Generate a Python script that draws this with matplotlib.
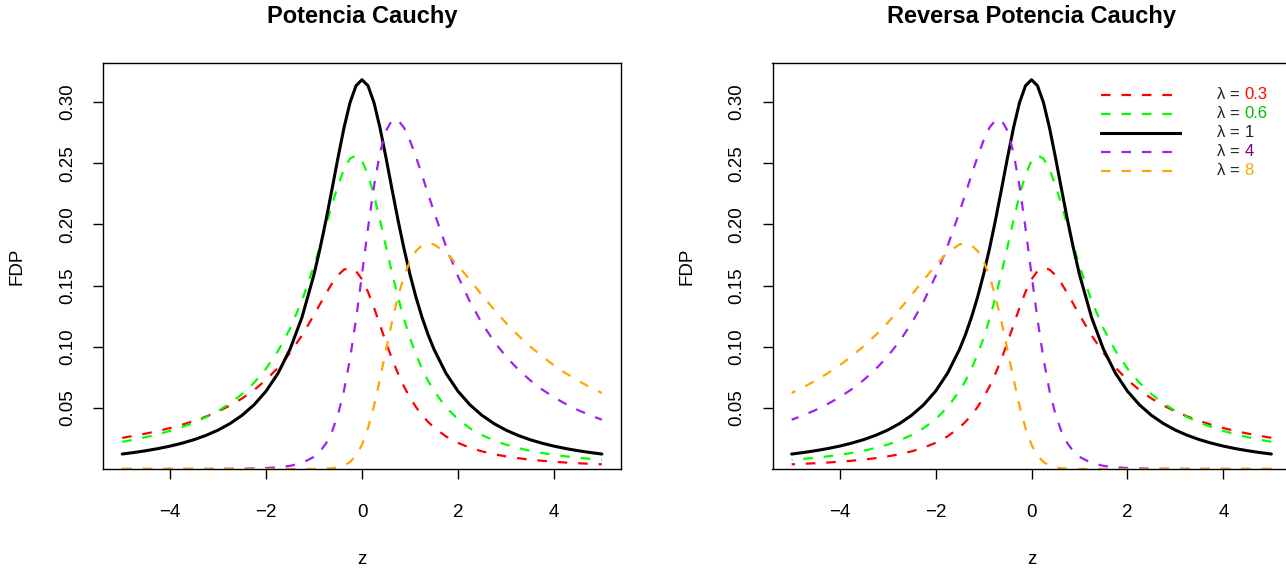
import numpy as np
import matplotlib
matplotlib.use("Agg")
import matplotlib.pyplot as plt

plt.rcParams['font.family'] = ['Liberation Sans', 'DejaVu Sans']

# z grid and densities (power Cauchy, left panel)
z = np.array([-5, -4.75, -4.5, -4.25, -4, -3.75, -3.5, -3.25, -3, -2.75, -2.5, -2.25, -2,
              -1.75, -1.5, -1.25, -1,
              -0.875, -0.75, -0.625, -0.5, -0.375, -0.25, -0.125, 0, 0.125, 0.25, 0.375,
              0.5, 0.625, 0.75, 0.875, 1, 1.125, 1.25, 1.375, 1.5,
              1.75, 2, 2.25, 2.5, 2.75, 3, 3.25, 3.5, 3.75, 4, 4.25, 4.5, 4.75, 5])

dens_03 = [0.02549, 0.02717, 0.02902, 0.03113, 0.03351, 0.03621, 0.03932, 0.04290, 0.04707,
           0.05196, 0.05773, 0.06461, 0.07290, 0.08288, 0.09496, 0.10938, 0.12600,
           0.13483, 0.14356, 0.15173, 0.15856, 0.16307, 0.16441, 0.16182, 0.15513, 0.14481,
           0.13191, 0.11776, 0.10355, 0.09015, 0.07807, 0.06749, 0.05840, 0.05067, 0.04414,
           0.03863, 0.03397,
           0.02667, 0.02136, 0.01741, 0.01442, 0.01211, 0.01030, 0.00886, 0.00769, 0.00674,
           0.00595, 0.00528, 0.00473, 0.00425, 0.00384]
dens_06 = [0.02222, 0.02404, 0.02610, 0.02845, 0.03117, 0.03432, 0.03801, 0.04235, 0.04752,
           0.05373, 0.06129, 0.07058, 0.08212, 0.09659, 0.11488, 0.13790, 0.16626,
           0.18230, 0.19914, 0.21605, 0.23189, 0.24509, 0.25383, 0.25645, 0.25201, 0.24069,
           0.22383, 0.20349, 0.18179, 0.16046, 0.14059, 0.12276, 0.10714, 0.09365, 0.08210,
           0.07225, 0.06384,
           0.05053, 0.04072, 0.03336, 0.02774, 0.02338, 0.01994, 0.01719, 0.01496, 0.01313,
           0.01161, 0.01033, 0.00925, 0.00833, 0.00754]
dens_1 = [0.01224, 0.01351, 0.01498, 0.01670, 0.01872, 0.02113, 0.02402, 0.02753, 0.03183,
          0.03718, 0.04391, 0.05251, 0.06366, 0.07835, 0.09794, 0.12422, 0.15915,
          0.18028, 0.20372, 0.22890, 0.25465, 0.27907, 0.29959, 0.31341, 0.31831, 0.31341,
          0.29959, 0.27907, 0.25465, 0.22890, 0.20372, 0.18028, 0.15915, 0.14050, 0.12422,
          0.11012, 0.09794,
          0.07835, 0.06366, 0.05251, 0.04391, 0.03718, 0.03183, 0.02753, 0.02402, 0.02113,
          0.01872, 0.01670, 0.01498, 0.01351, 0.01224]
dens_4 = [0.00001, 0.00002, 0.00002, 0.00003, 0.00004, 0.00005, 0.00007, 0.00009, 0.00014,
          0.00020, 0.00031, 0.00050, 0.00082, 0.00141, 0.00257, 0.00492, 0.00995,
          0.01438, 0.02096, 0.03062, 0.04459, 0.06410, 0.09007, 0.12236, 0.15915, 0.19695,
          0.23138, 0.25864, 0.27662, 0.28512, 0.28533, 0.27916, 0.26857, 0.25527, 0.24057,
          0.22540, 0.21039,
          0.18229, 0.15773, 0.13682, 0.11922, 0.10447, 0.09207, 0.08162, 0.07275, 0.06519,
          0.05870, 0.05311, 0.04826, 0.04402, 0.04031]
dens_8 = [0, 0, 0, 0, 0, 0, 0, 0, 0, 0, 0, 0, 0.0, 0.0, 0.00001, 0.00002, 0.00008,
          0.00016, 0.00032, 0.00066, 0.00138, 0.00284, 0.00571, 0.01100, 0.01989, 0.03339,
          0.05164, 0.07362, 0.09730, 0.12036, 0.14083, 0.15753, 0.16995, 0.17826, 0.18292,
          0.18450, 0.18368,
          0.17702, 0.16655, 0.15453, 0.14227, 0.13050, 0.11952, 0.10949, 0.10040, 0.09222,
          0.08485, 0.07825, 0.07232, 0.06699, 0.06219]

lambdas = ["0.3", "0.6", "1", "4", "8"]
series = [dens_03, dens_06, dens_1, dens_4, dens_8]
line_cols = ["#FF0000", "#00FF00", "#000000", "#A020F0", "#FFA500"]
text_cols = ["#FF0000", "#00BB00", "#222222", "#800080", "#FFA500"]
dash = (4.3, 4.9)

W, H = 1286, 574
fig = plt.figure(figsize=(W / 100, H / 100), dpi=100)

def px_axes(x0, x1, ytop, ybot):
    return fig.add_axes([x0 / W, 1 - ybot / H, (x1 - x0) / W, (ybot - ytop) / H])

ax1 = px_axes(103, 621, 63, 469)
ax2 = px_axes(772.5, 1290.5, 63, 469)

for ax, sign, title in [(ax1, 1, "Potencia Cauchy"), (ax2, -1, "Reversa Potencia Cauchy")]:
    for lam, d, c in zip(lambdas, series, line_cols):
        if lam == "1":
            ax.plot(sign * z, d, color=c, lw=2.2, solid_capstyle='round')
        else:
            ax.plot(sign * z, d, color=c, lw=1.6, dashes=dash)
    ax.set_xlim(-5.4, 5.4)
    ax.set_ylim(0, 0.332)
    ax.set_xticks([-4, -2, 0, 2, 4])
    ax.set_xticklabels(["\u22124", "\u22122", "0", "2", "4"])
    ax.set_yticks([0.05, 0.10, 0.15, 0.20, 0.25, 0.30])
    ax.set_yticklabels(["0.05", "0.10", "0.15", "0.20", "0.25", "0.30"],
                       rotation=90, va='center')
    ax.tick_params(axis='both', length=7, width=1, labelsize=13.5, direction='out')
    ax.tick_params(axis='x', pad=18)
    ax.tick_params(axis='y', pad=12.5)
    for s in ax.spines.values():
        s.set_linewidth(1)
    ax.set_title(title, fontsize=17, fontweight='bold', pad=29)
    ax.set_xlabel("z", fontsize=13.5, labelpad=22)
    ax.set_ylabel("FDP", fontsize=13.5, labelpad=24)

ax2.spines['right'].set_visible(False)

# legend in the right panel
lx0 = (1101 - 772.5) / 518
lx1 = (1180 - 772.5) / 518
tx = (1217 - 772.5) / 518
for i, (lam, lc, tc) in enumerate(zip(lambdas, line_cols, text_cols)):
    yy = (469 - (94.5 + 19.1 * i)) / 406
    if lam == "1":
        ax2.plot([lx0, lx1], [yy, yy], transform=ax2.transAxes, color=lc, lw=2.2,
                 clip_on=False)
    else:
        ax2.plot([lx0, lx1], [yy, yy], transform=ax2.transAxes, color=lc, lw=1.6,
                 dashes=dash, clip_on=False)
    t = ax2.text(tx, yy, "\u03bb = ", transform=ax2.transAxes, fontsize=12,
                 color="#222222", va='center', ha='left')
    ax2.annotate(lam, xy=(1, 0.5), xycoords=t, fontsize=12, color=tc,
                 va='center', ha='left')

fig.savefig("out.png", dpi=100)
